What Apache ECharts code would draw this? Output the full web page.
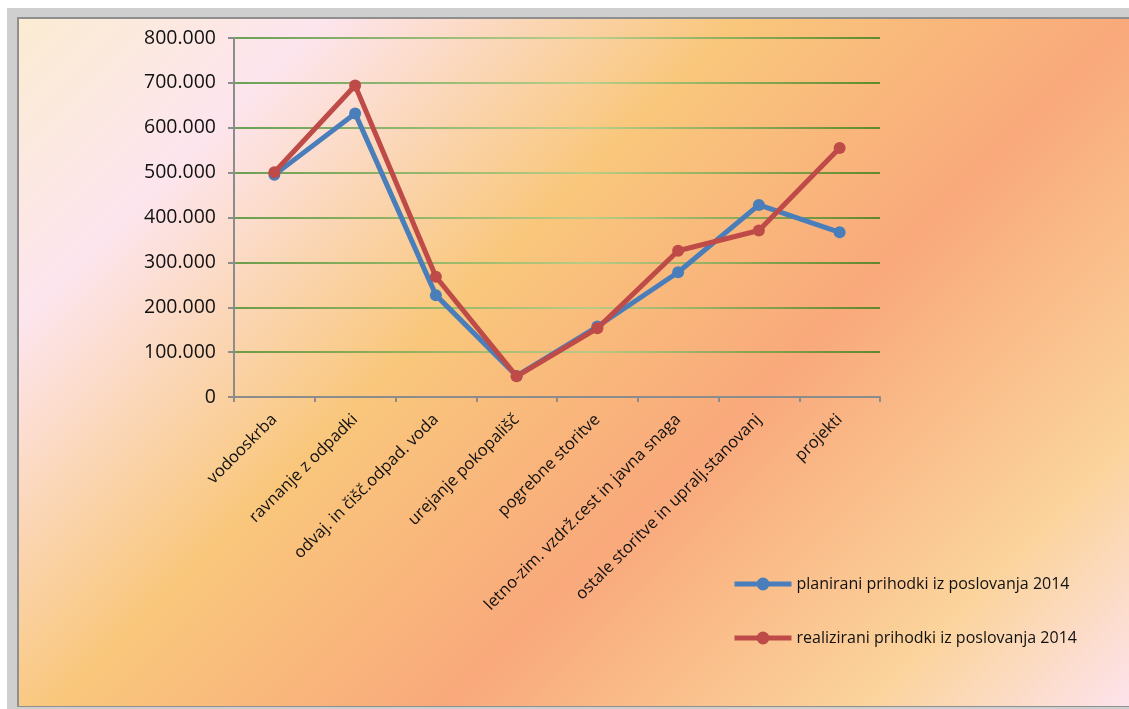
<!DOCTYPE html>
<html>
<head>
<meta charset="utf-8">
<script src="https://cdn.jsdelivr.net/npm/echarts@6/dist/echarts.min.js"></script>
<style>
  html, body { margin: 0; padding: 0; background: #ffffff; }
  #chart { width: 1129px; height: 709px; }
</style>
</head>
<body>
<div id="chart"></div>
<script>
// Revenue categories (x axis)
const categories = [
  'vodooskrba',
  'ravnanje z odpadki',
  'odvaj. in čišč.odpad. voda',
  'urejanje pokopališč',
  'pogrebne storitve',
  'letno-zim. vzdrž.cest in javna snaga',
  'ostale storitve in upralj.stanovanj',
  'projekti'
];

// Planned operating revenue 2014
const planned = [495000, 632000, 227000, 47000, 157000, 278000, 428000, 367000];

// Realised operating revenue 2014
const realized = [501000, 694000, 268000, 46000, 153000, 326000, 371000, 555000];

const seriesNames = [
  'planirani prihodki iz poslovanja 2014',
  'realizirani prihodki iz poslovanja 2014'
];

// Y axis range
const yMin = 0;
const yMax = 800000;
const yStep = 100000;

const FONT = '"Open Sans", "DejaVu Sans", sans-serif';

function fmtThousands(v) {
  if (v === 0) return '0';
  return String(Math.round(v)).replace(/\B(?=(\d{3})+(?!\d))/g, '.');
}

const chart = echarts.init(document.getElementById('chart'), null, { renderer: 'canvas' });

// Diagonal sunset fill of the chart area (45° bands)
const areaFill = new echarts.graphic.LinearGradient(0, 0, 0.809, 1.309, [
  { offset: 0.00, color: '#fbecd2' },
  { offset: 0.17, color: '#fde5ee' },
  { offset: 0.40, color: '#f9c77c' },
  { offset: 0.62, color: '#f9a97b' },
  { offset: 0.85, color: '#fbd39b' },
  { offset: 1.00, color: '#fde3ec' }
]);

const gridGreen = new echarts.graphic.LinearGradient(0, 0, 1, 0, [
  { offset: 0.0, color: '#3a8824' },
  { offset: 0.55, color: '#a5cf88' },
  { offset: 1.0, color: '#2c7a12' }
]);

const option = {
  backgroundColor: '#ffffff',
  animation: false,
  textStyle: { fontFamily: FONT },
  graphic: {
    elements: [
      {
        type: 'rect', z: -20, silent: true,
        shape: { x: 7, y: 8, width: 1122, height: 701 },
        style: { fill: '#cfcfcf' }
      },
      {
        type: 'rect', z: -19, silent: true,
        shape: { x: 17, y: 17, width: 1113, height: 690 },
        style: { fill: '#8f8f8f' }
      },
      {
        type: 'rect', z: -18, silent: true,
        shape: { x: 19, y: 19, width: 1111, height: 687 },
        style: { fill: areaFill }
      }
    ]
  },
  grid: {
    left: 234,
    right: 249,
    top: 38,
    bottom: 312,
    containLabel: false
  },
  legend: {
    orient: 'vertical',
    left: 727,
    top: 571,
    itemWidth: 57,
    itemHeight: 16,
    itemGap: 38,
    lineStyle: { width: 5 },
    textStyle: { fontFamily: FONT, fontSize: 16, color: '#111111' },
    data: seriesNames
  },
  xAxis: {
    type: 'category',
    data: categories,
    boundaryGap: true,
    axisLine: { show: true, lineStyle: { color: '#8c8c8c', width: 2 } },
    axisTick: { show: true, length: 5, lineStyle: { color: '#8c8c8c', width: 2 } },
    axisLabel: {
      interval: 0,
      rotate: 45,
      margin: 20,
      fontFamily: FONT,
      fontSize: 16.5,
      color: '#111111'
    },
    splitLine: { show: false }
  },
  yAxis: {
    type: 'value',
    min: yMin,
    max: yMax,
    interval: yStep,
    axisLine: { show: true, lineStyle: { color: '#8c8c8c', width: 2 } },
    axisTick: { show: true, length: 6, lineStyle: { color: '#8c8c8c', width: 2 } },
    axisLabel: {
      margin: 18,
      fontFamily: FONT,
      fontSize: 19.5,
      color: '#111111',
      formatter: fmtThousands
    },
    splitLine: { show: true, lineStyle: { color: gridGreen, width: 1.6 } }
  },
  series: [
    {
      name: seriesNames[0],
      type: 'line',
      data: planned,
      symbol: 'circle',
      symbolSize: 12,
      lineStyle: { color: '#4a7ebb', width: 5 },
      itemStyle: { color: '#4a7ebb' },
      z: 3
    },
    {
      name: seriesNames[1],
      type: 'line',
      data: realized,
      symbol: 'circle',
      symbolSize: 12,
      lineStyle: { color: '#be4b48', width: 5 },
      itemStyle: { color: '#be4b48' },
      z: 4
    }
  ]
};

chart.setOption(option);
</script>
</body>
</html>
